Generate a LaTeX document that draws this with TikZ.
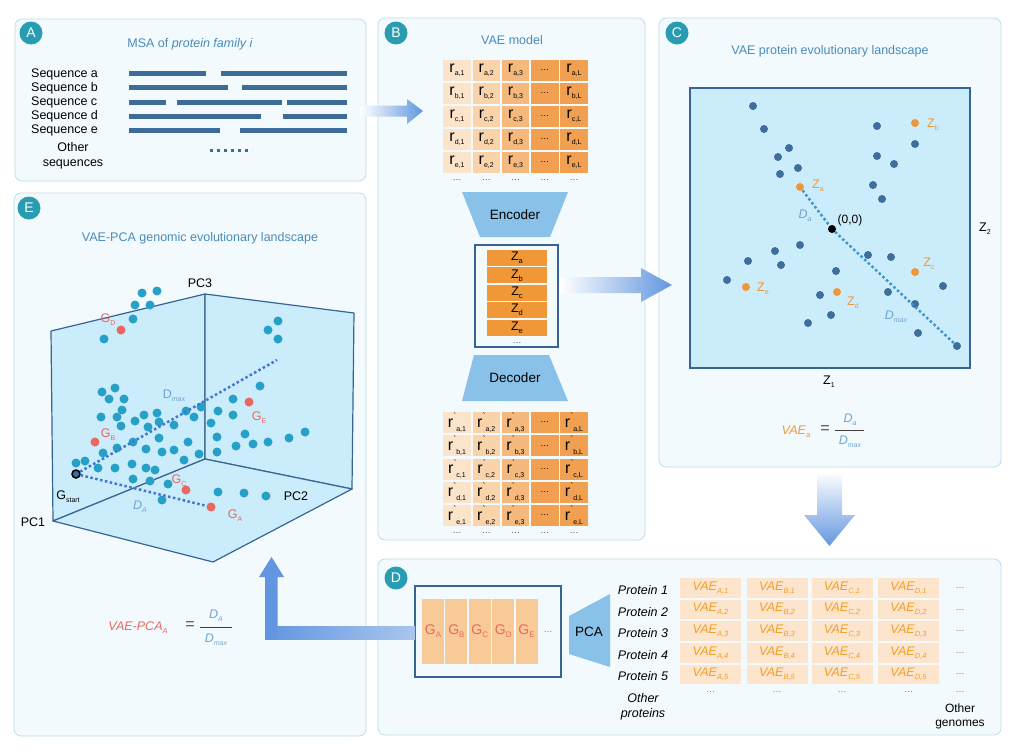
\documentclass[tikz,border=0pt]{standalone}
\usepackage{fontspec}
\setmainfont{Liberation Sans}
\usetikzlibrary{positioning,arrows.meta,calc}

\definecolor{PanelFill}{RGB}{242,250,254}
\definecolor{PanelEdge}{RGB}{190,219,233}
\definecolor{BadgeTeal}{RGB}{40,156,176}
\definecolor{TitleBlue}{RGB}{74,139,186}
\definecolor{SeqBlue}{RGB}{62,108,152}
\definecolor{PlotFill}{RGB}{203,236,250}
\definecolor{FrameBlue}{RGB}{55,100,148}
\definecolor{NetBlue}{RGB}{138,193,232}
\definecolor{FlowBlue}{RGB}{98,150,224}
\definecolor{DotBlue}{RGB}{62,110,156}
\definecolor{DotTeal}{RGB}{38,160,198}
\definecolor{ZOrange}{RGB}{240,152,56}
\definecolor{GRed}{RGB}{232,104,96}
\definecolor{CellA}{RGB}{252,228,203}
\definecolor{CellB}{RGB}{249,211,170}
\definecolor{CellC}{RGB}{245,185,125}
\definecolor{CellD}{RGB}{240,160,80}
\definecolor{GCell}{RGB}{248,202,152}
\definecolor{VaeCell}{RGB}{252,228,205}
\definecolor{VaeText}{RGB}{240,160,40}
\definecolor{LatDash}{RGB}{62,150,205}
\definecolor{PcaDash}{RGB}{66,118,210}
\definecolor{DistBlue}{RGB}{110,165,210}

\newcommand{\lowsub}[2]{\raisebox{-3pt}{\fontsize{#1}{#1}\selectfont #2}}
\newcommand{\rsym}[1]{{\fontsize{16}{16}\selectfont r}\lowsub{7}{#1}}
\newcommand{\rtick}[1]{{\fontsize{16}{16}\selectfont r}\raisebox{7.5pt}{\fontsize{9}{9}\selectfont\textasciigrave}\raisebox{-4pt}{\fontsize{7}{7}\selectfont #1}}
\newcommand{\vae}[1]{\textit{VAE}\lowsub{7.5}{\textit{#1}}}

\begin{document}
\begin{tikzpicture}[x=1pt, y=-1pt,
      every node/.style={inner sep=1pt},
      panel/.style  ={draw=PanelEdge, fill=PanelFill, rounded corners=7pt, line width=0.8pt, inner sep=0pt},
      badge/.style  ={circle, fill=BadgeTeal, text=white, minimum size=23pt, inner sep=0pt, font=\fontsize{14}{14}\selectfont},
      ttl/.style    ={text=TitleBlue, font=\fontsize{12.5}{14}\selectfont},
      lbl/.style    ={font=\fontsize{12.5}{15}\selectfont, align=center},
      seqbar/.style ={SeqBlue, line width=5pt},
      rbox/.style   ={minimum width=27.5pt, minimum height=21pt, inner sep=0pt},
      zcell/.style  ={fill=ZOrange, minimum width=60pt, minimum height=16pt, inner sep=0pt, font=\fontsize{12.5}{13}\selectfont},
      gcell/.style  ={fill=GCell, minimum width=22pt, minimum height=65pt, inner sep=0pt, text=GRed, font=\fontsize{14}{14}\selectfont},
      vcell/.style  ={fill=VaeCell, minimum width=61pt, minimum height=19.5pt, inner sep=0pt, text=VaeText, font=\fontsize{12.5}{13}\selectfont},
      outl/.style   ={draw=FrameBlue, line width=1.3pt},
      net/.style    ={fill=NetBlue},
      ell/.style    ={text=black!55, font=\fontsize{9}{9}\selectfont, inner sep=0pt},
      zdot/.style   ={circle, fill=ZOrange, minimum size=8pt, inner sep=0pt},
      gdot/.style   ={circle, fill=GRed, minimum size=9pt, inner sep=0pt},
      zlbl/.style   ={text=ZOrange, font=\fontsize{12.5}{13}\selectfont},
      glbl/.style   ={text=GRed, font=\fontsize{12.5}{13}\selectfont},
      latdash/.style={LatDash, line width=2.5pt, dash pattern=on 2.5pt off 2.5pt},
      pcadash/.style={PcaDash, line width=2.5pt, dash pattern=on 2.5pt off 2.5pt},
  ]
  \useasboundingbox (0,0) rectangle (1013,755);

  % ─ Panels ─
  \node[panel, minimum width=351pt, minimum height=162pt] (panA) at (190.5,100) {};
  \node[panel, minimum width=267pt, minimum height=522pt] (panB) at (511.5,279) {};
  \node[panel, minimum width=342pt, minimum height=449pt] (panC) at (830,242.5) {};
  \node[panel, minimum width=623pt, minimum height=176pt] (panD) at (689.5,647) {};
  \node[panel, minimum width=352pt, minimum height=543pt] (panE) at (190,464.5) {};

  \node[badge] (bA) at (31,33)  {A};
  \node[badge] (bB) at (396,33) {B};
  \node[badge] (bC) at (677,33) {C};
  \node[badge] (bD) at (396,578) {D};
  \node[badge] (bE) at (29,208) {E};

  % ─ A: MSA ─
  \node[ttl] (tA) at (190,44) {MSA of \textit{protein family i}};
  \foreach \s [count=\i from 0] in {a,b,c,d,e}
    \node[lbl, anchor=west, inner sep=0pt] (seq\s) at (31,74+14.2*\i) {Sequence \s};
  \node[lbl] (seqo) at (73,156) {Other\\sequences};
  \foreach \y/\segs in {73/{129/206,221/347}, 87/{129/228,242/347}, 102/{129/166,177/282,287/347},
                        116/{129/261,283/347}, 130/{129/220,240/347}}
    \foreach \a/\b in \segs
      \draw[seqbar] (\a,\y) -- (\b,\y);
  \draw[SeqBlue, line width=3pt, dash pattern=on 3pt off 4pt] (210,150) -- (252,150);

  % ─ B: VAE model ─
  \node[ttl] (tB) at (512,40) {VAE model};
  \foreach \rw [count=\i from 0] in {a,b,c,d,e}{
    \foreach \cl/\cx/\cc in {1/457/CellA, 2/486.25/CellB, 3/515.5/CellC, L/574/CellD}{
      \node[rbox, fill=\cc] (in-\rw\cl)  at (\cx,70.5+23*\i)     {\rsym{\rw,\cl}};
      \node[rbox, fill=\cc] (out-\rw\cl) at (\cx,422.5+23.25*\i) {\rtick{\rw,\cl}};
    }
    \node[rbox, fill=CellD, font=\fontsize{9}{9}\selectfont] (in-\rw4)  at (544.75,70.5+23*\i)     {\dots};
    \node[rbox, fill=CellD, font=\fontsize{9}{9}\selectfont] (out-\rw4) at (544.75,422.5+23.25*\i) {\dots};
  }
  \foreach \cx in {457,486.25,515.5,544.75,574}{
    \node[ell, text=black!70] at (\cx,180) {\dots};
    \node[ell, text=black!70] at (\cx,533) {\dots};
  }

  \fill[net] (462,192) -- (568,192) -- (550,237) -- (480,237) -- cycle;
  \node[font=\fontsize{13.5}{14}\selectfont] (enc) at (515,215) {Encoder};
  \node[outl, minimum width=83pt, minimum height=102pt, inner sep=0pt] (zbox) at (516.5,296) {};
  \foreach \zl [count=\i from 0] in {a,b,c,d,e}
    \node[zcell] (z\zl) at (517,258+17.4*\i) {Z\lowsub{7.5}{\zl}};
  \node[ell, text=black!70] (zell) at (517,343) {\dots};
  \fill[net] (474,355) -- (549,355) -- (568,401) -- (462,401) -- cycle;
  \node[font=\fontsize{13.5}{14}\selectfont] (dec) at (515,378) {Decoder};

  % ─ C: latent space ─
  \node[ttl] (tC) at (830,51) {VAE protein evolutionary landscape};
  \node[outl, fill=PlotFill, minimum width=280pt, minimum height=280pt, inner sep=0pt] (plotC) at (830,228) {};
  \foreach \px/\py in {753/106, 764/129, 789/148, 778/157, 798/168, 780/174, 877/126, 915/144,
                       877/156, 894/164, 873/185, 882/199, 800/245, 775/251, 748/261, 781/265,
                       727/280, 836/271, 820/295, 831/315, 808/323, 868/255, 891/257, 888/292,
                       915/304, 943/286, 918/333}
    \fill[DotBlue] (\px,\py) circle (4pt);
  \node[circle, fill=DotBlue, minimum size=8pt, inner sep=0pt] (zfar) at (957,346) {};
  \node[zdot] (za) at (800,187) {};
  \node[zdot] (zb) at (915,123) {};
  \node[zdot] (zc) at (915,272) {};
  \node[zdot] (zd) at (837,292) {};
  \node[zdot] (ze) at (746,287) {};
  \node[circle, fill=black, minimum size=8pt, inner sep=0pt] (orig) at (832,229) {};
  \draw[latdash] (za) -- (orig);
  \draw[latdash] (orig) -- (zfar);
  \node[zlbl] (la) at (818,186) {Z\lowsub{7}{a}};
  \node[zlbl] (lb) at (933,125) {Z\lowsub{7}{b}};
  \node[zlbl] (lc) at (929,264) {Z\lowsub{7}{c}};
  \node[zlbl] (ld) at (853,303) {Z\lowsub{7}{d}};
  \node[zlbl] (le) at (763,289) {Z\lowsub{7}{e}};
  \node[font=\fontsize{12}{12}\selectfont] (lo) at (850,220) {(0,0)};
  \node[text=DistBlue, font=\fontsize{12.5}{13}\selectfont] (lDa) at (805,216) {\textit{D}\lowsub{7}{\textit{a}}};
  \node[text=DistBlue, font=\fontsize{12.5}{13}\selectfont] (lDm) at (896,317) {\textit{D}\lowsub{7}{\textit{max}}};
  \node[lbl] (z1) at (829,382) {Z\lowsub{7}{1}};
  \node[lbl] (z2) at (985,229) {Z\lowsub{7}{2}};

  \node[text=ZOrange, font=\fontsize{12.5}{13}\selectfont] (fvae) at (796,432) {\vae{a}};
  \node[text=black!70, font=\fontsize{16}{16}\selectfont] (feqC) at (825,430) {=};
  \node[text=DistBlue, font=\fontsize{12.5}{13}\selectfont] (fnC) at (850,420) {\textit{D}\lowsub{7}{\textit{a}}};
  \node[text=DistBlue, font=\fontsize{12.5}{13}\selectfont] (fdC) at (850,442) {\textit{D}\lowsub{7}{\textit{max}}};
  \draw[black!75, line width=0.8pt] (835,430) -- (864,430);

  % ─ D: genome table ─
  \node[outl, minimum width=146pt, minimum height=91pt, inner sep=0pt] (gbox) at (488,631.5) {};
  \foreach \g [count=\i from 0] in {A,B,C,D,E}
    \node[gcell] (g\g) at (433+23.4*\i,631.5) {G\lowsub{8}{\g}};
  \node[ell] (gell) at (548,632) {\dots};
  \fill[net] (569,616) -- (610,594) -- (610,667) -- (569,654) -- cycle;
  \node[font=\fontsize{13.5}{14}\selectfont] (pca) at (589,632) {PCA};
  \foreach \p [count=\i from 0] in {1,...,5}{
    \node[lbl, font=\fontsize{12.5}{15}\selectfont\itshape] (prot\p) at (643,590+21.6*\i) {Protein \p};
    \foreach \g/\cx in {A/710.5, B/777, C/842, D/908.5}
      \node[vcell] (v\g\p) at (\cx,588+21.6*\i) {\vae{\g,\p}};
    \node[ell] (vell\p) at (960,588+21.6*\i) {\dots};
  }
  \node[lbl, font=\fontsize{12.5}{15}\selectfont\itshape] (protx) at (643,707) {Other\\proteins};
  \foreach \cx in {710.5,777,842,908.5,960}
    \node[ell] at (\cx,692) {\dots};
  \node[lbl, font=\fontsize{12}{14}\selectfont] (genx) at (960,716) {Other\\genomes};

  % ─ E: 3D PCA landscape ─
  \node[ttl] (tE) at (200,238) {VAE-PCA genomic evolutionary landscape};
  \coordinate (O)  at (205,459);
  \coordinate (T)  at (205,294);
  \coordinate (LT) at (51,331);
  \coordinate (LB) at (53,521);
  \coordinate (RT) at (354,313);
  \coordinate (RB) at (352,489);
  \coordinate (F)  at (213,562);
  \filldraw[PlotFill, draw=FrameBlue, line width=1.2pt, line join=round] (LB) -- (O) -- (T) -- (LT) -- cycle;
  \filldraw[PlotFill, draw=FrameBlue, line width=1.2pt, line join=round] (O) -- (RB) -- (RT) -- (T) -- cycle;
  \filldraw[PlotFill, draw=FrameBlue, line width=1.2pt, line join=round] (LB) -- (O) -- (RB) -- (F) -- cycle;
  \node[lbl] (pc3) at (200,283) {PC3};
  \node[lbl] (pc1) at (33,522) {PC1};
  \node[lbl] (pc2) at (296,496) {PC2};

  \foreach \px/\py in {142/293, 157/291, 135/305, 150/305, 133/319, 104/339,
                       102/392, 115/388, 109/399, 124/399,
                       101/417, 117/417, 122/410, 121/426, 135/421, 144/415, 148/427, 157/413, 159/422,
                       174/425, 186/411, 194/417, 201/407,
                       159/438, 133/442, 117/448, 103/453, 146/449, 162/452, 174/450, 188/442, 184/460, 199/454,
                       76/463, 85/461, 98/468, 115/468, 132/464, 146/468, 155/470, 133/479, 150/481, 168/484, 162/500,
                       278/321, 268/330, 278/339, 260/386, 233/399, 233/415, 218/411, 211/423,
                       245/434, 217/437, 236/446, 253/444, 268/442, 289/438, 305/432, 217/452,
                       218/492, 244/493, 266/496}
    \fill[DotTeal] (\px,\py) circle (4.5pt);
  \node[circle, draw=black, line width=1.5pt, fill=DotBlue, minimum size=8pt, inner sep=0pt] (gst) at (76,474) {};
  \coordinate (dmaxend) at (277,360);
  \node[gdot] (pD) at (121,330) {};
  \node[gdot] (pB) at (95,442)  {};
  \node[gdot] (pC) at (186,490) {};
  \node[gdot] (pE) at (249,402) {};
  \node[gdot] (pA) at (211,507) {};
  \draw[pcadash] (gst) -- (dmaxend);
  \draw[pcadash] (gst) -- (pA);
  \node[glbl] (lgD) at (108,320) {G\lowsub{7}{D}};
  \node[glbl] (lgB) at (108,435) {G\lowsub{7}{B}};
  \node[glbl] (lgC) at (179,481) {G\lowsub{7}{C}};
  \node[glbl] (lgE) at (259,418) {G\lowsub{7}{E}};
  \node[glbl] (lgA) at (235,516) {G\lowsub{7}{A}};
  \node[font=\fontsize{12.5}{13}\selectfont] (lgs) at (68,497) {G\lowsub{7}{start}};
  \node[text=DistBlue, font=\fontsize{12.5}{13}\selectfont] (lDmax) at (174,396) {D\lowsub{7}{max}};
  \node[text=DistBlue, font=\fontsize{12.5}{13}\selectfont] (lDA) at (140,507) {\textit{D}\lowsub{7}{\textit{A}}};

  \node[text=GRed, font=\fontsize{12.5}{13}\selectfont] (fpca) at (138,628) {\textit{VAE-PCA}\lowsub{7.5}{\textit{A}}};
  \node[text=black!70, font=\fontsize{16}{16}\selectfont] (feqE) at (190,626) {=};
  \node[text=DistBlue, font=\fontsize{12.5}{13}\selectfont] (fnE) at (216,616) {\textit{D}\lowsub{7}{\textit{A}}};
  \node[text=DistBlue, font=\fontsize{12.5}{13}\selectfont] (fdE) at (216,640) {\textit{D}\lowsub{7}{\textit{max}}};
  \draw[black!75, line width=0.8pt] (200,627) -- (232,627);

  % ─ Block arrows between panels ─
  \shade[left color=white, right color=FlowBlue]
        (360,105.5) -- (407,105.5) -- (407,99) -- (423,111) -- (407,124) -- (407,116.5) -- (360,116.5) -- cycle;
  \shade[left color=white, right color=FlowBlue]
        (560,277) -- (641,277) -- (641,268) -- (672,285) -- (641,302) -- (641,293) -- (560,293) -- cycle;
  \shade[top color=white, bottom color=FlowBlue]
        (817,472) -- (842,472) -- (842,515) -- (855,515) -- (829.5,546) -- (804,515) -- (817,515) -- cycle;
  \shade[left color=FlowBlue, right color=FlowBlue!55]
        (265,626) -- (415,626) -- (415,639) -- (265,639) -- cycle;
  \fill[FlowBlue] (265,639) -- (265,577) -- (259,577) -- (271.5,557) -- (284,577) -- (277.5,577) -- (277.5,639) -- cycle;
\end{tikzpicture}
\end{document}
